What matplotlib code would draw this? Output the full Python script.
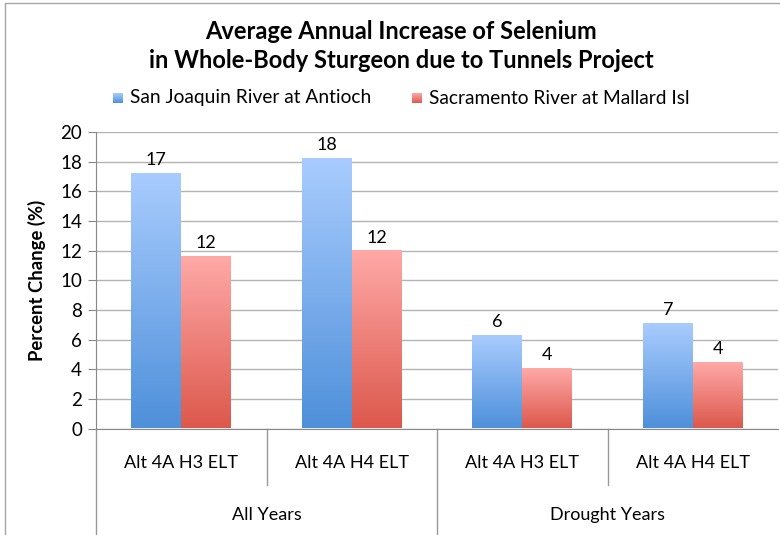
import numpy as np
import matplotlib
matplotlib.use("Agg")
import matplotlib.pyplot as plt
from matplotlib.colors import LinearSegmentedColormap
from matplotlib.patches import Rectangle

plt.rcParams['font.family'] = ['Lato', 'DejaVu Sans']

# data
categories = ["Alt 4A H3 ELT", "Alt 4A H4 ELT", "Alt 4A H3 ELT", "Alt 4A H4 ELT"]
groups = ["All Years", "Drought Years"]
series_names = ["San Joaquin River at Antioch", "Sacramento River at Mallard Isl"]
san_joaquin = [17.2, 18.2, 6.27, 7.06]
sacramento = [11.6, 11.95, 4.04, 4.44]
labels_sj = ["17", "18", "6", "7"]
labels_sac = ["12", "12", "4", "4"]

blue_grad = LinearSegmentedColormap.from_list("b", ["#4E90DA", "#A9CCFE"])
red_grad = LinearSegmentedColormap.from_list("r", ["#DC584C", "#FFA9A7"])
grad = np.linspace(0, 1, 256).reshape(-1, 1)

fig = plt.figure(figsize=(7.8, 5.35), dpi=100)
W, H = 780.0, 535.0

# outer chart border
fig.patches.append(Rectangle((5 / W, -0.01), 1.0, 1 - 3 / H + 0.01, transform=fig.transFigure,
                             fill=False, edgecolor="#a6a6a6", lw=1.0))

ax = fig.add_axes([96 / W, 1 - 428.5 / H, 682 / W, (428.5 - 132) / H])
ax.set_xlim(-0.5, 3.5)
ax.set_ylim(0, 20)

x = np.arange(len(categories))
bw = 0.293

def grad_bar(xl, h, cmap):
    ax.imshow(grad, extent=[xl, xl + bw, 0, h], origin="lower", cmap=cmap,
              aspect="auto", zorder=3, interpolation="bilinear")

for i in range(len(categories)):
    grad_bar(x[i] - bw, san_joaquin[i], blue_grad)
    grad_bar(x[i], sacramento[i], red_grad)
    ax.annotate(labels_sj[i], (x[i] - bw / 2, san_joaquin[i]), xytext=(0, 4),
                textcoords="offset points", ha="center", va="bottom", fontsize=13)
    ax.annotate(labels_sac[i], (x[i] + bw / 2, sacramento[i]), xytext=(0, 4),
                textcoords="offset points", ha="center", va="bottom", fontsize=13)

ax.set_xlim(-0.5, 3.5)
ax.set_ylim(0, 20)
ax.set_yticks(np.arange(0, 21, 2))
ax.tick_params(axis="y", labelsize=13.5, length=6, color="#888888", pad=4)
ax.grid(axis="y", color="#b3b3b3", lw=1.0, zorder=0)
ax.set_axisbelow(True)
for s in ["top", "right"]:
    ax.spines[s].set_visible(False)
ax.spines["left"].set_color("#888888")
ax.spines["bottom"].set_color("#888888")
ax.set_xticks([])
ax.set_ylabel("Percent Change (%)", fontsize=13.3, fontweight="bold", labelpad=10)

# two-level category axis
tr = ax.get_xaxis_transform()
for i, c in enumerate(categories):
    ax.text(x[i], -0.117, c, transform=tr, ha="center", va="center", fontsize=13)
for xs in [0.5, 2.5]:
    ax.plot([xs, xs], [0, -0.19], transform=tr, color="#999999", lw=1, clip_on=False)
for xs in [-0.5, 1.5]:
    ax.plot([xs, xs], [0, -0.4], transform=tr, color="#999999", lw=1, clip_on=False)
for g, gi in enumerate(groups):
    ax.text(2 * g + 0.5, -0.292, gi, transform=tr, ha="center", va="center", fontsize=13)

# title
fig.text(401 / W, 1 - 46 / H, "Average Annual Increase of Selenium\nin Whole-Body Sturgeon due to Tunnels Project",
         ha="center", va="center", fontsize=17, fontweight="bold", linespacing=1.3)

# legend with gradient squares
leg = [(113, series_names[0], blue_grad), (412, series_names[1], red_grad)]
for px, name, cm in leg:
    lax = fig.add_axes([px / W, 1 - 103 / H, 10 / W, 10 / H])
    lax.imshow(grad, origin="lower", cmap=cm, aspect="auto")
    lax.axis("off")
    fig.text((px + 17) / W, 1 - 98 / H, name, ha="left", va="center", fontsize=13.8)

fig.savefig("out.png", dpi=100)
